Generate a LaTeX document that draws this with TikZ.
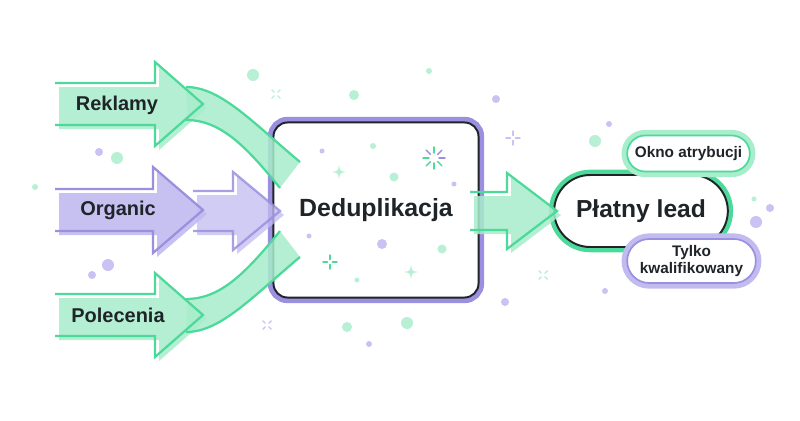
\documentclass[tikz,border=0pt]{standalone}
\usepackage{fontspec}
\setmainfont{Liberation Sans}
\usetikzlibrary{shapes.misc}
\definecolor{mint}{HTML}{4CD99A}
\definecolor{mintfill}{HTML}{A8EDCC}
\definecolor{mintdot}{HTML}{B8F0D6}
\definecolor{lilac}{HTML}{9B8FE0}
\definecolor{lilacfill}{HTML}{C2BBF0}
\definecolor{lilacdot}{HTML}{C9C2F2}
\definecolor{ink}{HTML}{1F2428}
\tikzset{
  xspark/.pic={\foreach \a in {45,135,225,315} \draw[line width=1pt,line cap=round] (\a:2.5) -- (\a:6);},
  plusspark/.pic={\foreach \a in {0,90,180,270} \draw[line width=1pt,line cap=round] (\a:2.5) -- (\a:7);},
  starspark/.pic={\fill (0,-7) .. controls (1,-1) .. (7,0) .. controls (1,1) .. (0,7) .. controls (-1,1) .. (-7,0) .. controls (-1,-1) .. (0,-7) -- cycle;},
  burst/.pic={\foreach \a/\c in {0/lilac,45/mint,90/mint,135/mint,180/mint,225/lilac,270/mint,315/lilac} \draw[\c,line width=1pt,line cap=round] (\a:5) -- (\a:11);}
}
\begin{document}
\begin{tikzpicture}[x=0.025cm,y=-0.025cm,
lbl/.style={font=\fontsize{14.2}{16}\selectfont\bfseries,text=ink},
mintline/.style={draw=mint,line width=1.6pt},
lilacline/.style={draw=lilac,line width=1.6pt},
mintbody/.style={fill=mintfill,fill opacity=.85,shift={(4,4)}},
lilacbody/.style={fill=lilacfill,fill opacity=.9,shift={(4,4)}},
bandfill/.style={fill=mintfill,fill opacity=.85},
dedupbox/.style={draw=ink,line width=1.4pt,fill=white,rounded corners=10pt,minimum width=5.125cm,minimum height=4.375cm,preaction={draw=lilac,line width=8pt},font=\fontsize{17.7}{20}\selectfont\bfseries,text=ink},
leadpill/.style={rounded rectangle,draw=ink,line width=1.4pt,fill=white,minimum width=4.575cm,minimum height=1.8cm,preaction={draw=mint,line width=7.5pt},font=\fontsize{17.5}{20}\selectfont\bfseries,text=ink},
tagpill/.style={rounded rectangle,fill=white,line width=1.2pt,font=\fontsize{10.9}{12.5}\selectfont\bfseries,text=ink,align=center}]
\useasboundingbox[fill=white] (0,0) rectangle (800,420);
\foreach \x/\y/\r in {253/75/6,354/95/5,429/71/3,595/141/6,117/158/6,35/187/3,347/327/5,407/323/6,754/199/2.5}
  \fill[mintdot] (\x,\y) circle (\r);
\foreach \x/\y/\r in {496/99/4,609/124/3,99/152/4,108/265/6,92/275/4,369/344/3,505/302/4,605/291/3,770/208/4,756/222/6}
  \fill[lilacdot] (\x,\y) circle (\r);
\pic[color=mintdot] at (276,94) {xspark};
\pic[color=lilacdot] at (267,325) {xspark};
\pic[color=mintdot] at (543,275) {xspark};
\pic[color=lilacdot] at (513,138) {plusspark};
\node[dedupbox] (dedup) at (376,210) {Deduplikacja};
\foreach \x/\y/\r in {373/146/3,394/177/4.5,357/280/2.5,442/249/4.5}
  \fill[mintdot] (\x,\y) circle (\r);
\foreach \x/\y/\r in {322/151/2.5,454/184/2.5,309/236/2.5,382/244/5}
  \fill[lilacdot] (\x,\y) circle (\r);
\pic[color=mintdot] at (339,172) {starspark};
\pic[color=mintdot] at (411,272) {starspark};
\pic[color=mint] at (330,262) {plusspark};
\pic at (434,158) {burst};
\fill[mintbody] (55,83) -- (155,83) -- (155,62) -- (203,104) -- (155,146) -- (155,125) -- (55,125) -- cycle;
\fill[bandfill] (186,87) .. controls (220,87) and (250,120) .. (300,162) -- (280,188) .. controls (245,145) and (220,120) .. (188,120) -- cycle;
\draw[mintline] (55,83) -- (155,83) -- (155,62) -- (203,104) -- (155,146) -- (155,125) -- (55,125);
\draw[mintline] (186,87) .. controls (220,87) and (250,120) .. (300,162);
\draw[mintline] (186,120) .. controls (220,120) and (245,145) .. (280,188);
\fill[mintbody] (55,294) -- (155,294) -- (155,273) -- (203,315) -- (155,357) -- (155,336) -- (55,336) -- cycle;
\fill[bandfill] (186,332) .. controls (220,332) and (250,299) .. (300,257) -- (280,231) .. controls (245,274) and (220,299) .. (188,299) -- cycle;
\draw[mintline] (55,294) -- (155,294) -- (155,273) -- (203,315) -- (155,357) -- (155,336) -- (55,336);
\draw[mintline] (186,332) .. controls (220,332) and (250,299) .. (300,257);
\draw[mintline] (186,299) .. controls (220,299) and (245,274) .. (280,231);
\fill[lilacbody,fill opacity=.75] (193,191) -- (233,191) -- (233,172) -- (280,211) -- (233,250) -- (233,231) -- (193,231) -- cycle;
\draw[lilacline,draw opacity=.85] (193,191) -- (233,191) -- (233,172) -- (280,211) -- (233,250) -- (233,231) -- (193,231);
\fill[lilacbody] (55,189) -- (153,189) -- (153,167) -- (203,210) -- (153,253) -- (153,231) -- (55,231) -- cycle;
\draw[lilacline] (55,189) -- (153,189) -- (153,167) -- (203,210) -- (153,253) -- (153,231) -- (55,231);
\node[lbl] (reklamy) at (117,105) {Reklamy};
\node[lbl] (organic) at (118,210) {Organic};
\node[lbl] (polecenia) at (118,315) {Polecenia};
\node[leadpill] (lead) at (641,211) {Płatny lead};
\fill[mintbody] (470,192) -- (507,192) -- (507,173) -- (557,211) -- (507,249) -- (507,230) -- (470,230) -- cycle;
\draw[mintline] (470,192) -- (507,192) -- (507,173) -- (557,211) -- (507,249) -- (507,230) -- (470,230);
\node[tagpill,draw=mint,preaction={draw=mintfill,line width=8pt},minimum width=3.3cm,minimum height=.9cm] (okno) at (688.5,153.5) {Okno atrybucji};
\node[tagpill,draw=lilac,preaction={draw=lilacfill,line width=8pt},minimum width=3.45cm,minimum height=1.1cm] (tylko) at (691.5,261) {Tylko\\kwalifikowany};
\end{tikzpicture}
\end{document}
